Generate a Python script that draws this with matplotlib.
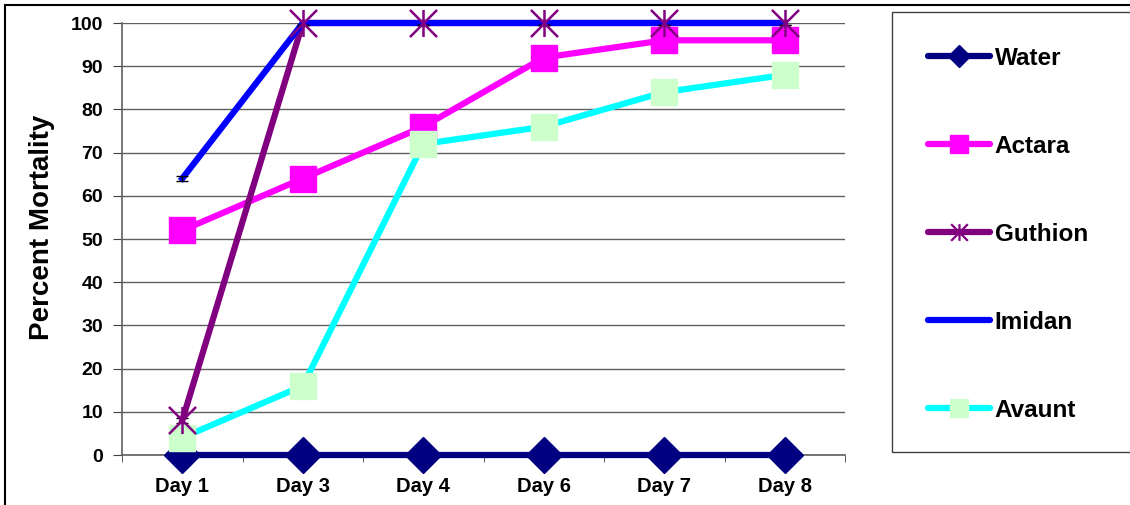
import matplotlib.pyplot as plt
from matplotlib.path import Path
from matplotlib.patches import Rectangle
from matplotlib.lines import Line2D

days = ['Day 1', 'Day 3', 'Day 4', 'Day 6', 'Day 7', 'Day 8']
water = [0, 0, 0, 0, 0, 0]
actara = [52, 64, 76, 92, 96, 96]
guthion = [8, 100, 100, 100, 100, 100]
imidan = [64, 100, 100, 100, 100, 100]
avaunt = [4, 16, 72, 76, 84, 88]
guthion_err = [0.5, 0.5, 0.5, 0.5, 0.5, 0.5]
imidan_err = [0.5, 0.5, 0.5, 0.5, 0.5, 0.5]

plt.rcParams['font.family'] = 'Liberation Sans'
plt.rcParams['font.weight'] = 'bold'

W, H = 1130, 505
fig = plt.figure(figsize=(W / 100, H / 100), dpi=100)
ax = fig.add_axes([122 / W, 1 - 455 / H, (845 - 122) / W, (455 - 23) / H])

x = list(range(len(days)))

# asterisk marker: X plus vertical bar
ast = Path([(-1, -1), (1, 1), (-1, 1), (1, -1), (0, -1), (0, 1)],
           [Path.MOVETO, Path.LINETO] * 3)

lw = 4.5
ax.plot(x, water, color='#000080', lw=lw, zorder=3, clip_on=False)
ax.plot(x, actara, color='#FF00FF', lw=lw, zorder=3.1)
ax.plot(x, guthion, color='#800080', lw=lw, zorder=3.2, clip_on=False)
ax.plot(x, avaunt, color='#00FFFF', lw=lw, zorder=3.4)
ax.plot(x, water, ls='none', marker='D', ms=18, color='#000080', zorder=4, clip_on=False)
ax.plot(x, actara, ls='none', marker='s', ms=18.5, color='#FF00FF', zorder=4.1, clip_on=False)
ax.plot(x, avaunt, ls='none', marker='s', ms=18.5, color='#CCFFCC', zorder=4.4, clip_on=False)
ax.plot(x, imidan, color='#0000FF', lw=lw, zorder=4.3, clip_on=False)
ax.errorbar(x, imidan, yerr=imidan_err, fmt='none', ecolor='black', capsize=4, elinewidth=1, zorder=4.31)
ax.errorbar(x, guthion, yerr=guthion_err, fmt='none', ecolor='black', capsize=4, elinewidth=1, zorder=4.5)
ax.plot(x, guthion, ls='none', marker=ast, ms=19.5, mew=1.8, mfc='none', mec='#800080', zorder=4.6, clip_on=False)

ax.set_xlim(-0.5, len(days) - 0.5)
ax.set_ylim(0, 100)
ax.set_yticks(range(0, 101, 10))
ax.set_xticks(x)
ax.set_xticklabels(days, fontsize=14.5, fontweight='bold')
ax.set_xticks([i - 0.5 for i in range(len(days) + 1)], minor=True)
ax.tick_params(axis='x', which='major', length=0, pad=16)
ax.tick_params(axis='x', which='minor', length=5, direction='out', color='#404040')
ax.tick_params(axis='y', length=6.5, direction='out', color='#404040', labelsize=14, pad=7)
for lab in ax.get_yticklabels():
    lab.set_fontweight('bold')
ax.grid(axis='y', color='#606060', lw=1)
ax.set_axisbelow(True)
for s in ['top', 'right']:
    ax.spines[s].set_visible(False)
for s in ['left', 'bottom']:
    ax.spines[s].set_color('#606060')
    ax.spines[s].set_linewidth(1.2)
ax.set_ylabel('Percent Mortality', fontsize=20, fontweight='bold')
ax.yaxis.set_label_coords(-(122 - 55) / (845 - 122), 0.527)

# outer border and legend box
fig.patches.append(Rectangle((5 / W, -0.1), 1.2, 1 - 5 / H + 0.1, transform=fig.transFigure,
                             fill=False, ec='black', lw=1.5))
fig.patches.append(Rectangle((892 / W, 1 - 452 / H), (W - 892) / W + 0.1, (452 - 12) / H,
                             transform=fig.transFigure, fill=False, ec='#404040', lw=1))

handles = [
    Line2D([], [], color='#000080', lw=lw, marker='D', ms=11, solid_capstyle='round'),
    Line2D([], [], color='#FF00FF', lw=lw, marker='s', ms=13, solid_capstyle='round'),
    Line2D([], [], color='#800080', lw=lw, marker=ast, ms=12, mew=1.6, mfc='none', mec='#800080', solid_capstyle='round'),
    Line2D([], [], color='#0000FF', lw=lw, solid_capstyle='round'),
    Line2D([], [], color='#00FFFF', lw=lw, marker='s', ms=13, mfc='#CCFFCC', mec='#CCFFCC', solid_capstyle='round'),
]
labels = ['Water', 'Actara', 'Guthion', 'Imidan', 'Avaunt']
leg = fig.legend(handles, labels, loc='upper left', bbox_to_anchor=(928 / W, 1 - 47 / H),
                 frameon=False, fontsize=17.5, handlelength=2.55, handletextpad=0.2,
                 labelspacing=2.67, borderpad=0, borderaxespad=0)
for t in leg.get_texts():
    t.set_fontweight('bold')

fig.savefig('out.png', dpi=100)
